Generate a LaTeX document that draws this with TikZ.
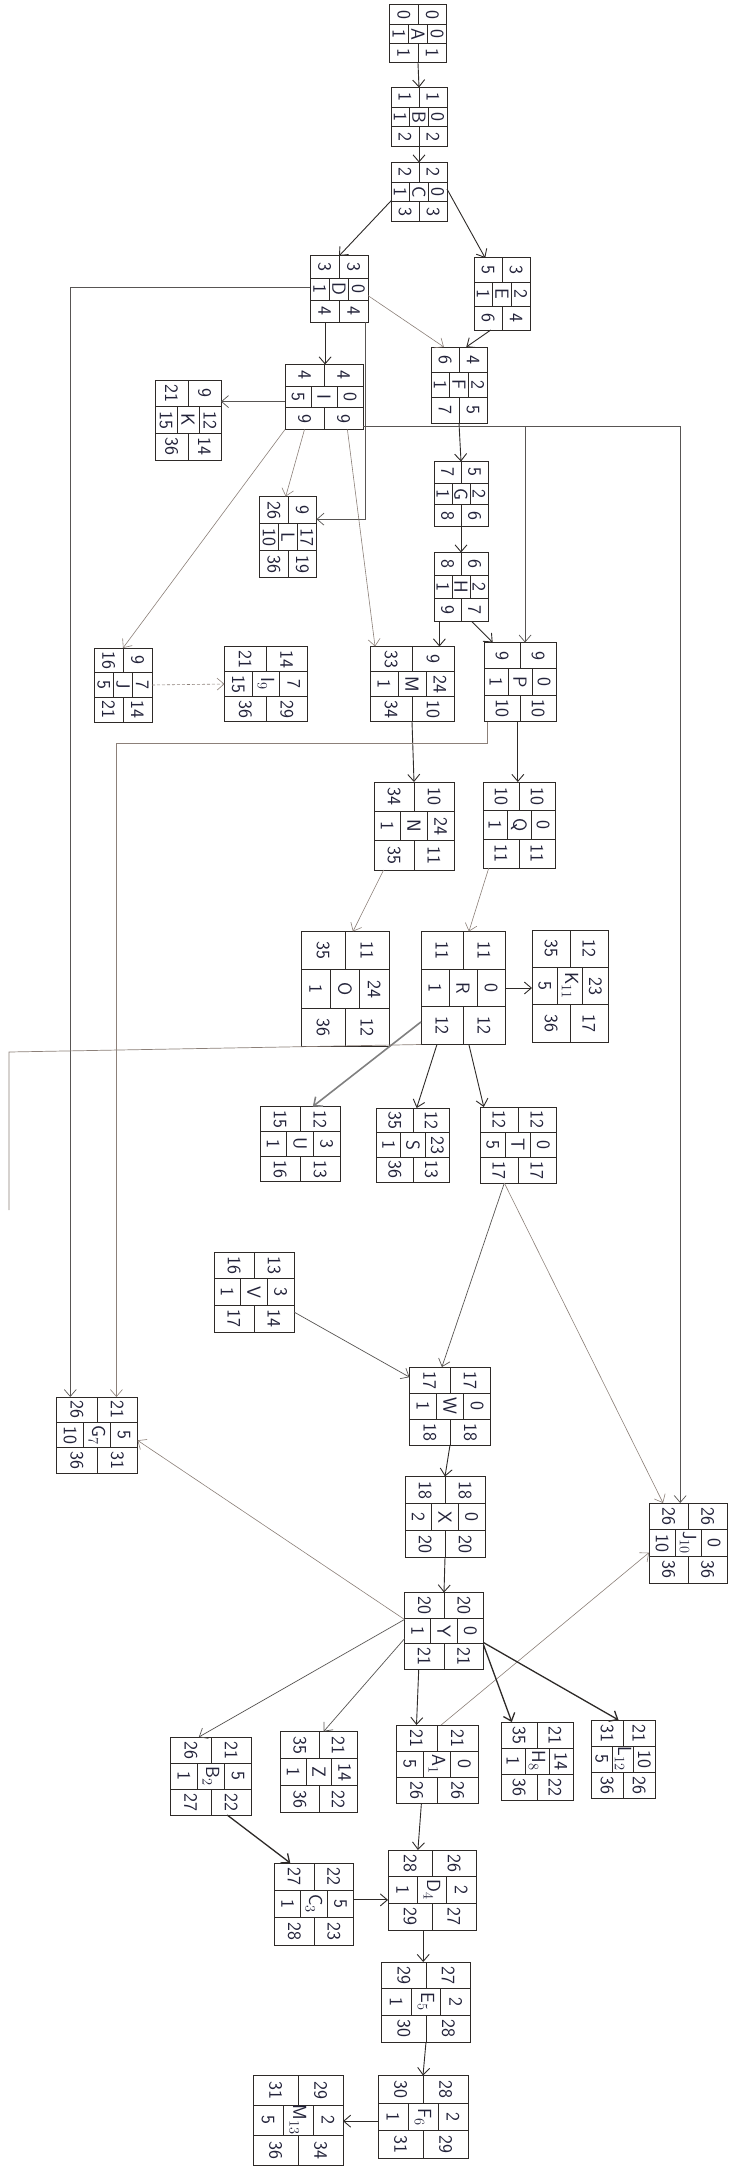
\documentclass[tikz,border=0pt]{standalone}
\usetikzlibrary{arrows.meta,calc}
\definecolor{ink}{HTML}{23233A}
\definecolor{pencil}{HTML}{8C8079}
\definecolor{lineink}{HTML}{2E2A28}
\tikzset{
  nbox/.style={draw=lineink, line width=1pt, inner sep=0pt, outer sep=0pt, fill=white},
  cell/.style={draw=lineink, line width=0.9pt},
  lab/.style={rotate=-90, inner sep=0pt, text=ink, font=\sffamily\fontsize{19}{19}\selectfont},
  conn/.style={draw=lineink, line width=0.9pt, -{Straight Barb[length=7pt,width=12pt]}},
  mconn/.style={conn, draw=lineink!80!white, line width=0.7pt},
  lconn/.style={conn, draw=pencil, line width=0.6pt},
  tconn/.style={conn, line width=1.3pt},
}
\newcommand\netbox[5]{\node[nbox,minimum width=#4pt,minimum height=#5pt] (#1) at (#2,#3) {};\gdef\curw{#4}\gdef\curh{#5}}
\newcommand\netlab[8]{%
 \begin{scope}[shift={(#1.north west)}]
  \draw[cell] (0,\curh/3) -- (\curw,\curh/3);
  \draw[cell] (0,2*\curh/3) -- (\curw,2*\curh/3);
  \draw[cell] (\curw/2,0) -- (\curw/2,\curh/3);
  \draw[cell] (\curw/2,2*\curh/3) -- (\curw/2,\curh);
  \draw[cell] (\curw/3,\curh/3) -- (\curw/3,2*\curh/3);
  \draw[cell] (2*\curw/3,\curh/3) -- (2*\curw/3,2*\curh/3);
  \node[lab] at (\curw/4,\curh/6) {#2};
  \node[lab] at (3*\curw/4,\curh/6) {#3};
  \node[lab] at (\curw/6,\curh/2) {#4};
  \node[lab] at (\curw/2,\curh/2) {#5};
  \node[lab] at (5*\curw/6,\curh/2) {#6};
  \node[lab] at (\curw/4,5*\curh/6) {#7};
  \node[lab] at (3*\curw/4,5*\curh/6) {#8};
 \end{scope}}
\begin{document}
\begin{tikzpicture}[x=1pt,y=-1pt]
\fill[white] (0,0) rectangle (728,2167);
\useasboundingbox (0,0) rectangle (728,2167);

% ---- boxes ----
\netbox{A}{418}{34}{57}{58}\netlab{A}{0}{0}{1}{A}{0}{1}{1}
\netbox{B}{419}{117}{56}{59}\netlab{B}{1}{1}{1}{B}{0}{2}{2}
\netbox{C}{419}{192}{56}{59}\netlab{C}{2}{2}{1}{C}{0}{3}{3}
\netbox{D}{339}{289}{58}{66}\netlab{D}{3}{3}{1}{D}{0}{4}{4}
\netbox{E}{502}{294}{56}{72}\netlab{E}{5}{3}{1}{E}{2}{6}{4}
\netbox{F}{459}{385}{56}{76}\netlab{F}{6}{4}{1}{F}{2}{7}{5}
\netbox{I}{324}{397}{78}{65}\netlab{I}{4}{4}{5}{I}{0}{9}{9}
\netbox{K}{188}{420}{66}{80}\netlab{K}{21}{9}{15}{K}{12}{36}{14}
\netbox{G}{461}{494}{54}{65}\netlab{G}{7}{5}{1}{G}{2}{8}{6}
\netbox{L}{288}{537}{57}{81}\netlab{L}{26}{9}{10}{L}{17}{36}{19}
\netbox{H}{461}{587}{54}{69}\netlab{H}{8}{6}{1}{H}{2}{9}{7}
\netbox{J}{123}{685}{58}{74}\netlab{J}{16}{9}{5}{J}{7}{21}{14}
\netbox{I9}{266}{684}{83}{75}\netlab{I9}{21}{14}{15}{I$_9$}{7}{36}{29}
\netbox{M}{412}{684}{84}{75}\netlab{M}{33}{9}{1}{M}{24}{34}{10}
\netbox{P}{520}{682}{72}{79}\netlab{P}{9}{9}{1}{P}{0}{10}{10}
\netbox{N}{414}{826}{80}{88}\netlab{N}{34}{10}{1}{N}{24}{35}{11}
\netbox{Q}{519}{825}{72}{86}\netlab{Q}{10}{10}{1}{Q}{0}{11}{11}
\netbox{O}{345}{989}{88}{115}\netlab{O}{35}{11}{1}{O}{24}{36}{12}
\netbox{R}{463}{988}{84}{113}\netlab{R}{11}{11}{1}{R}{0}{12}{12}
\netbox{K11}{570}{986}{76}{112}\netlab{K11}{35}{12}{5}{K$_{11}$}{23}{36}{17}
\netbox{U}{300}{1144}{80}{75}\netlab{U}{15}{12}{1}{U}{3}{16}{13}
\netbox{S}{413}{1145}{73}{74}\netlab{S}{35}{12}{1}{S}{23}{36}{13}
\netbox{T}{518}{1145}{76}{76}\netlab{T}{12}{12}{5}{T}{0}{17}{17}
\netbox{V}{254}{1292}{80}{80}\netlab{V}{16}{13}{1}{V}{3}{17}{14}
\netbox{W}{450}{1406}{81}{78}\netlab{W}{17}{17}{1}{W}{0}{18}{18}
\netbox{G7}{97}{1435}{81}{76}\netlab{G7}{26}{21}{10}{G$_7$}{5}{36}{31}
\netbox{X}{445}{1517}{80}{81}\netlab{X}{18}{18}{2}{X}{0}{20}{20}
\netbox{J10}{688}{1543}{78}{80}\netlab{J10}{26}{26}{10}{J$_{10}$}{0}{36}{36}
\netbox{Y}{444}{1631}{79}{77}\netlab{Y}{20}{20}{1}{Y}{0}{21}{21}
\netbox{B2}{211}{1776}{81}{78}\netlab{B2}{26}{21}{1}{B$_2$}{5}{27}{22}
\netbox{Z}{319}{1772}{77}{81}\netlab{Z}{35}{21}{1}{Z}{14}{36}{22}
\netbox{A1}{437}{1764}{82}{78}\netlab{A1}{21}{21}{5}{A$_1$}{0}{26}{26}
\netbox{H8}{537}{1761}{72}{78}\netlab{H8}{35}{21}{1}{H$_8$}{14}{36}{22}
\netbox{L12}{623}{1759}{64}{78}\netlab{L12}{31}{21}{5}{L$_{12}$}{10}{36}{26}
\netbox{C3}{314}{1904}{79}{82}\netlab{C3}{27}{22}{1}{C$_3$}{5}{28}{23}
\netbox{D4}{432}{1890}{88}{80}\netlab{D4}{28}{26}{1}{D$_4$}{2}{29}{27}
\netbox{E5}{426}{2002}{89}{80}\netlab{E5}{29}{27}{1}{E$_5$}{2}{30}{28}
\netbox{F6}{423}{2117}{90}{83}\netlab{F6}{30}{28}{1}{F$_6$}{2}{31}{29}
\netbox{M13}{298}{2120}{90}{90}\netlab{M13}{31}{29}{5}{M$_{13}$}{2}{36}{34}

% ---- connectors ----
\draw[conn] (A.south) -- (B.north);
\draw[conn] (B.south) -- (C.north);
\draw[conn] ($(C.north west)!0.65!(C.south west)$) -- (D.north);
\draw[conn] ($(C.north east)!0.45!(C.south east)$) -- ($(E.north west)!0.2!(E.north east)$);
\draw[lconn] ($(D.north east)!0.6!(D.south east)$) -- ($(F.north west)!0.23!(F.north east)$);
\draw[conn] ($(E.south west)!0.3!(E.south east)$) -- ($(F.north west)!0.63!(F.north east)$);
\coordinate (d1) at ($(D.south west)!0.26!(D.south east)$);
\draw[conn] (d1) -- (d1 |- I.north);
\coordinate (d2) at ($(D.south west)!0.95!(D.south east)$);
\draw[mconn] (d2) |- ($(L.north east)!0.28!(L.south east)$);
\draw[mconn] ($(D.north west)!0.48!(D.south west)$) -| ($(G7.north west)!0.17!(G7.north east)$);
\draw[conn] (F.south) -- (G.north);
\coordinate (i1) at ($(I.north west)!0.57!(I.south west)$);
\draw[mconn] (i1) -- (i1 -| K.east);
\draw[lconn] ($(I.south west)!0.25!(I.south east)$) -- ($(L.north west)!0.46!(L.north east)$);
\draw[lconn] (I.south west) -- (J.north);
\draw[lconn] ($(I.south west)!0.8!(I.south east)$) -- ($(M.north west)!0.06!(M.north east)$);
\coordinate (i2) at ($(I.north east)!0.95!(I.south east)$);
\draw[mconn] (i2) -| ($(P.north west)!0.57!(P.north east)$);
\draw[mconn] (i2) -| ($(J10.north west)!0.4!(J10.north east)$);
\draw[conn] (G.south) -- (H.north);
\coordinate (h1) at ($(H.south west)!0.1!(H.south east)$);
\draw[conn] (h1) -- (h1 |- M.north);
\draw[conn] ($(H.south west)!0.7!(H.south east)$) -- ($(P.north west)!0.12!(P.north east)$);
\draw[lconn, densely dashed] (J.east) -- (I9.west);
\draw[conn] (M.south) -- (N.north);
\coordinate (p1) at ($(P.south west)!0.47!(P.south east)$);
\draw[conn] (p1) -- (p1 |- Q.north);
\coordinate (p2) at ($(P.south west)!0.04!(P.south east)$);
\coordinate (p3) at ($(p2)+(0,22)$);
\draw[lconn] (p2) -- (p3) -| ($(G7.north west)!0.74!(G7.north east)$);
\draw[lconn] ($(N.south west)!0.12!(N.south east)$) -- ($(O.north west)!0.59!(O.north east)$);
\draw[lconn] ($(Q.south west)!0.08!(Q.south east)$) -- ($(R.north west)!0.57!(R.north east)$);
\coordinate (r1) at (R.east);
\draw[conn] (r1) -- (r1 -| K11.west);
\draw[conn, draw=gray, line width=1.6pt] ($(R.north west)!0.8!(R.south west)$) -- ($(U.north west)!0.66!(U.north east)$);
\draw[conn] ($(R.south west)!0.19!(R.south east)$) -- ($(S.north west)!0.55!(S.north east)$);
\draw[conn] ($(R.south west)!0.57!(R.south east)$) -- ($(T.north west)!0.05!(T.north east)$);
\coordinate (edge1) at (9,1052);
\coordinate (edge2) at (9,1210);
\draw[draw=pencil, line width=0.7pt] (R.south west) -- (edge1) -- (edge2);
\coordinate (t1) at ($(T.south west)!0.32!(T.south east)$);
\draw[mconn] (t1) -- ($(W.north west)!0.4!(W.north east)$);
\draw[lconn] (t1) -- ($(J10.north west)!0.18!(J10.north east)$);
\draw[mconn] ($(V.north east)!0.75!(V.south east)$) -- ($(W.north west)!0.13!(W.south west)$);
\draw[conn] (W.south) -- (X.north);
\draw[conn] (X.south) -- (Y.north);
\draw[lconn] ($(Y.north west)!0.35!(Y.south west)$) -- ($(G7.north east)!0.57!(G7.south east)$);
\draw[lconn] ($(A1.north west)!0.55!(A1.north east)$) -- ($(J10.north west)!0.62!(J10.south west)$);
\draw[mconn] ($(Y.north west)!0.35!(Y.south west)$) -- ($(B2.north west)!0.35!(B2.north east)$);
\draw[mconn] ($(Y.north west)!0.6!(Y.south west)$) -- ($(Z.north west)!0.56!(Z.north east)$);
\draw[conn] ($(Y.south west)!0.18!(Y.south east)$) -- ($(A1.north west)!0.25!(A1.north east)$);
\draw[tconn] ($(Y.north east)!0.68!(Y.south east)$) -- ($(H8.north west)!0.15!(H8.north east)$);
\draw[tconn] ($(Y.north east)!0.65!(Y.south east)$) -- ($(L12.north west)!0.43!(L12.north east)$);
\draw[tconn] ($(B2.south west)!0.7!(B2.south east)$) -- ($(C3.north west)!0.2!(C3.north east)$);
\coordinate (c1) at ($(C3.north east)!0.45!(C3.south east)$);
\draw[conn] (c1) -- (c1 -| D4.west);
\draw[conn] ($(A1.south west)!0.31!(A1.south east)$) -- ($(D4.north west)!0.34!(D4.north east)$);
\coordinate (e1) at ($(D4.south west)!0.4!(D4.south east)$);
\draw[conn] (e1) -- (e1 |- E5.north);
\draw[conn] (E5.south) -- (F6.north);
\coordinate (f1) at ($(F6.north west)!0.55!(F6.south west)$);
\draw[conn] (f1) -- (f1 -| M13.east);
\end{tikzpicture}
\end{document}
